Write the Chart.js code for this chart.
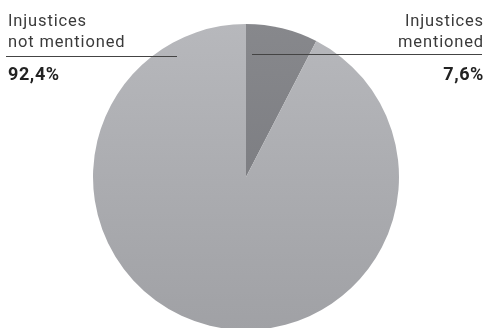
<!DOCTYPE html>
<html>
<head>
<meta charset="utf-8">
<script src="https://cdn.jsdelivr.net/npm/chart.js@4"></script>
<style>
  html, body { margin: 0; padding: 0; background: #fff; overflow: hidden; }
  #wrap { position: relative; width: 486px; height: 328px; overflow: hidden; }
  #pie { position: absolute; left: 0; top: 0; }
  .lbl { position: absolute; font-family: Roboto, "Liberation Sans", sans-serif; color: #3a3a3a; font-size: 16.5px; line-height: 21px; letter-spacing: 0.85px; }
  .lbl .pct { font-weight: bold; color: #222; font-size: 18px; letter-spacing: 0.6px; margin-top: 11px; }
  .rule { position: absolute; height: 0; border-top: 1.5px solid #444; }
</style>
</head>
<body>
<div id="wrap">
  <canvas id="pie" width="486" height="330"></canvas>
  <div class="lbl" id="lblLeft" style="left:8px; top:10px; text-align:left;"></div>
  <div class="lbl" id="lblRight" style="right:2px; top:10px; text-align:right;"></div>
  <div class="rule" style="left:6px; top:56px; width:171px;"></div>
  <div class="rule" style="left:252px; top:54px; width:230px;"></div>
</div>
<script>
// share of stories, clockwise from 12 o'clock
var categories = ['Injustices mentioned', 'Injustices not mentioned'];
var shares = [7.6, 92.4];
var labelLines = [['Injustices', 'mentioned'], ['Injustices', 'not mentioned']];
var pctLabels = shares.map(function (v) { return v.toFixed(1).replace('.', ',') + '%'; });

// slice shading, top colour and bottom colour
var shadeTop = ['#87888c', '#b7b8bc'];
var shadeBottom = ['#74757a', '#a0a1a5'];

function fillLabel(id, i) {
    var el = document.getElementById(id);
    el.innerHTML = labelLines[i].join('<br>') + '<div class="pct">' + pctLabels[i] + '</div>';
}
fillLabel('lblRight', 0);
fillLabel('lblLeft', 1);

function sliceFill(context) {
    var i = context.dataIndex;
    var chart = context.chart;
    var area = chart.chartArea;
    if (!area) return shadeTop[i];
    var g = chart.ctx.createLinearGradient(0, area.top, 0, area.bottom);
    g.addColorStop(0, shadeTop[i]);
    g.addColorStop(1, shadeBottom[i]);
    return g;
}

const ctx = document.getElementById('pie').getContext('2d');
const myChart = new Chart(ctx, {
    type: 'pie',
    data: {
        labels: categories,
        datasets: [{
            data: shares,
            backgroundColor: sliceFill,
            borderWidth: 0
        }]
    },
    options: {
        responsive: false,
        animation: false,
        layout: { padding: { top: 24, left: 6, right: 0, bottom: 0 } },
        plugins: {
            legend: { display: false },
            tooltip: { enabled: false }
        }
    }
});
</script>
</body>
</html>
